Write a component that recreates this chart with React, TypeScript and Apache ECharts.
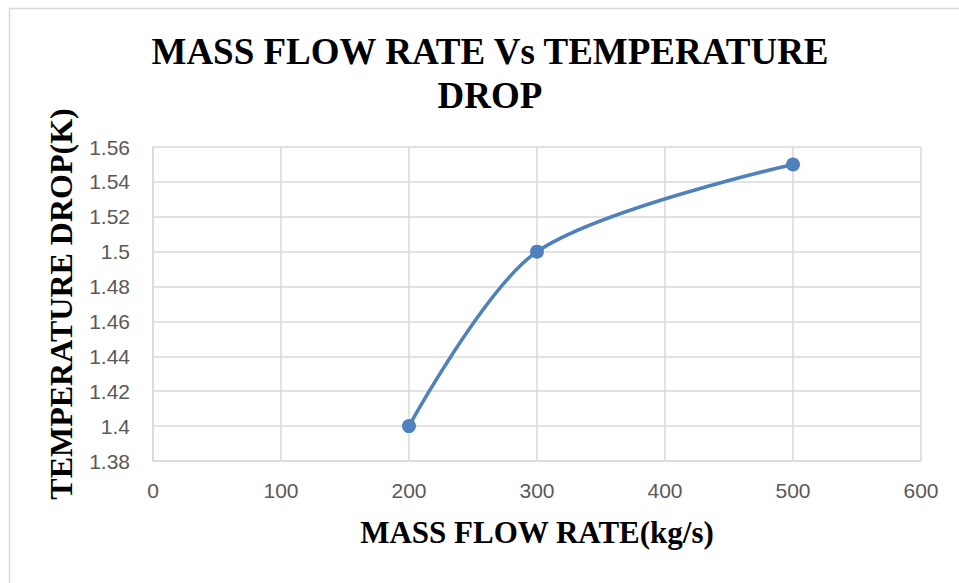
import React, { useEffect, useRef } from "react";
import * as echarts from "echarts";

// Mass flow rate (kg/s) against temperature drop (K)
const massFlowRate = [200, 300, 500];
const temperatureDrop = [1.4, 1.5, 1.55];

const xTicks = { min: 0, max: 600, interval: 100 };
const yTicks = { min: 1.38, max: 1.56, interval: 0.02 };

const titleText = "MASS FLOW RATE Vs TEMPERATURE\nDROP";
const xAxisName = "MASS FLOW RATE(kg/s)";
const yAxisName = "TEMPERATURE DROP(K)";

const SERIF = '"Liberation Serif", "Times New Roman", serif';
const SANS = '"Liberation Sans", "Open Sans", sans-serif';
const GRID_COLOR = "#d9d9d9";
const LABEL_COLOR = "#595959";
const LINE_COLOR = "#4F81BD";

export default function App() {
  const ref = useRef<HTMLDivElement>(null);

  useEffect(() => {
    if (!ref.current) return;
    const chart = echarts.init(ref.current, null, { renderer: "svg" });

    const points = massFlowRate.map((x, i) => [x, temperatureDrop[i]]);

    chart.setOption({
      animation: false,
      backgroundColor: "#ffffff",
      title: {
        text: titleText,
        left: 490,
        top: 29,
        textAlign: "center",
        padding: 0,
        textStyle: {
          fontFamily: SERIF,
          fontWeight: "bold",
          fontSize: 37,
          lineHeight: 44,
          color: "#000000",
          align: "center",
        },
      },
      graphic: [
        {
          type: "rect",
          z: -10,
          silent: true,
          shape: { x: 9.5, y: 8.5, width: 1000, height: 1000 },
          style: { fill: "none", stroke: GRID_COLOR, lineWidth: 1.5 },
        },
      ],
      grid: { left: 153, right: 38, top: 147, bottom: 122, containLabel: false },
      xAxis: {
        type: "value",
        min: xTicks.min,
        max: xTicks.max,
        interval: xTicks.interval,
        name: xAxisName,
        nameLocation: "middle",
        nameGap: 56,
        nameTextStyle: {
          fontFamily: SERIF,
          fontWeight: "bold",
          fontSize: 31,
          color: "#000000",
        },
        axisLine: { show: true, lineStyle: { color: GRID_COLOR, width: 1.5 } },
        axisTick: { show: false },
        axisLabel: {
          margin: 19,
          fontFamily: SANS,
          fontSize: 21,
          color: LABEL_COLOR,
        },
        splitLine: { show: true, lineStyle: { color: GRID_COLOR, width: 1.5 } },
      },
      yAxis: {
        type: "value",
        min: yTicks.min,
        max: yTicks.max,
        interval: yTicks.interval,
        name: yAxisName,
        nameLocation: "middle",
        nameGap: 76,
        nameTextStyle: {
          fontFamily: SERIF,
          fontWeight: "bold",
          fontSize: 32,
          color: "#000000",
        },
        axisLine: { show: true, lineStyle: { color: GRID_COLOR, width: 1.5 } },
        axisTick: { show: false },
        axisLabel: {
          margin: 23,
          fontFamily: SANS,
          fontSize: 21,
          color: LABEL_COLOR,
          formatter: (v: number) => String(parseFloat(v.toFixed(2))),
        },
        splitLine: { show: true, lineStyle: { color: GRID_COLOR, width: 1.5 } },
      },
      series: [
        {
          type: "line",
          data: points,
          smooth: 0.3,
          symbol: "circle",
          symbolSize: 14,
          lineStyle: { color: LINE_COLOR, width: 3.5 },
          itemStyle: { color: LINE_COLOR },
        },
      ],
    });

    return () => chart.dispose();
  }, []);

  return (
    <div
      ref={ref}
      style={{ position: "fixed", left: 0, top: 0, width: 959, height: 583 }}
    />
  );
}
